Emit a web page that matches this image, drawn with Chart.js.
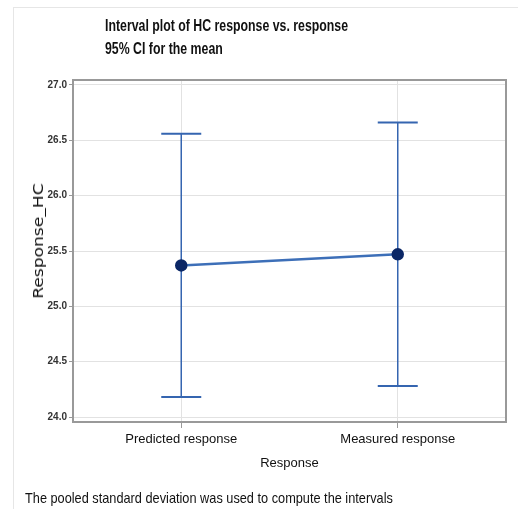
<!DOCTYPE html>
<html lang="en">
<head>
  <meta charset="UTF-8" />
  <title>Interval plot of HC response vs. response</title>
  <script src="https://cdn.jsdelivr.net/npm/chart.js"></script>
  <style>
    body { margin: 0; background: #fff; }
    .wrap { position: relative; width: 521px; height: 509px; overflow: hidden; }
    .frame { position: absolute; left: 13px; top: 7px; right: 3px; bottom: 0; border-top: 1px solid #e6e6e6; border-left: 1px solid #e6e6e6; }
    .title { position: absolute; left: 105px; font-family: 'Liberation Sans', sans-serif; font-weight: bold; font-size: 16px; color: #111; white-space: nowrap; transform: scaleX(0.77); transform-origin: left top; }
    .note { position: absolute; left: 25px; top: 489px; font-family: 'Liberation Sans', sans-serif; font-size: 15px; color: #111; white-space: nowrap; transform: scaleX(0.85); transform-origin: left top; }
    .ytitle { position: absolute; left: 38px; top: 241px; font-family: 'DejaVu Sans', sans-serif; font-size: 14px; color: #111; white-space: nowrap; transform: translate(-50%, -50%) rotate(-90deg) scaleX(1.22); }
    canvas { position: absolute; left: 0; top: 0; }
  </style>
</head>
<body>
<div class="wrap">
  <div class="frame"></div>
  <canvas id="chart" width="521" height="509"></canvas>
  <div class="title" style="top:17px">Interval plot of HC response vs. response</div>
  <div class="title" style="top:40px">95% CI for the mean</div>
  <div class="ytitle">Response_HC</div>
  <div class="note">The pooled standard deviation was used to compute the intervals</div>
</div>

<script>
const categories = ['Predicted response', 'Measured response'];
const means = [25.37, 25.47];
const lower = [24.18, 24.28];
const upper = [26.56, 26.66];
const yTicks = [24.0, 24.5, 25.0, 25.5, 26.0, 26.5, 27.0];

const barColor = '#3565b0';
const sans = "'Liberation Sans', sans-serif";

// one vertical whisker per category, caps drawn as 'line' point style
const errorSets = categories.map((c, i) => ({
  type: 'line',
  data: [{ x: c, y: lower[i] }, { x: c, y: upper[i] }],
  borderColor: barColor,
  borderWidth: 1.5,
  pointStyle: 'line',
  pointRadius: 20,
  pointBorderWidth: 2,
  pointBorderColor: barColor,
  order: 2
}));

const boxBorder = {
  id: 'boxBorder',
  afterDraw(chart) {
    const { ctx, chartArea: a } = chart;
    ctx.save();
    ctx.strokeStyle = '#999';
    ctx.lineWidth = 2;
    ctx.strokeRect(a.left, a.top, a.right - a.left, a.bottom - a.top);
    ctx.restore();
  }
};

new Chart(document.getElementById('chart'), {
  type: 'line',
  data: {
    labels: categories,
    datasets: [{
      data: means,
      borderColor: '#3d6fb8',
      borderWidth: 2.5,
      pointRadius: 5,
      pointBackgroundColor: '#0b2766',
      pointBorderColor: '#0b2766',
      order: 0
    }, ...errorSets]
  },
  options: {
    responsive: false,
    animation: false,
    events: [],
    layout: { autoPadding: false, padding: { top: 80, right: 15, left: 0, bottom: 0 } },
    plugins: { legend: { display: false }, tooltip: { enabled: false } },
    scales: {
      x: {
        type: 'category',
        offset: true,
        grid: { color: '#e2e2e2', tickColor: '#999', tickLength: 6 },
        border: { display: false },
        ticks: { color: '#111', padding: 4, font: { family: sans, size: 13 } },
        title: { display: true, text: 'Response', color: '#111', padding: { top: 0, bottom: 38 }, font: { family: sans, size: 13 } },
        afterFit: s => { s.height = 87; s.paddingLeft = 0; s.paddingRight = 0; }
      },
      y: {
        min: 23.955,
        max: 27.045,
        afterBuildTicks: s => { s.ticks = yTicks.map(v => ({ value: v })); },
        grid: { color: '#e2e2e2', tickColor: '#999', tickLength: 4 },
        border: { display: false },
        ticks: { color: '#333', padding: 2, font: { family: sans, size: 10, weight: 'bold' }, callback: v => v.toFixed(1) },
        title: { display: false },
        afterFit: s => { s.width = 73; }
      }
    }
  },
  plugins: [boxBorder]
});
</script>
</body>
</html>
